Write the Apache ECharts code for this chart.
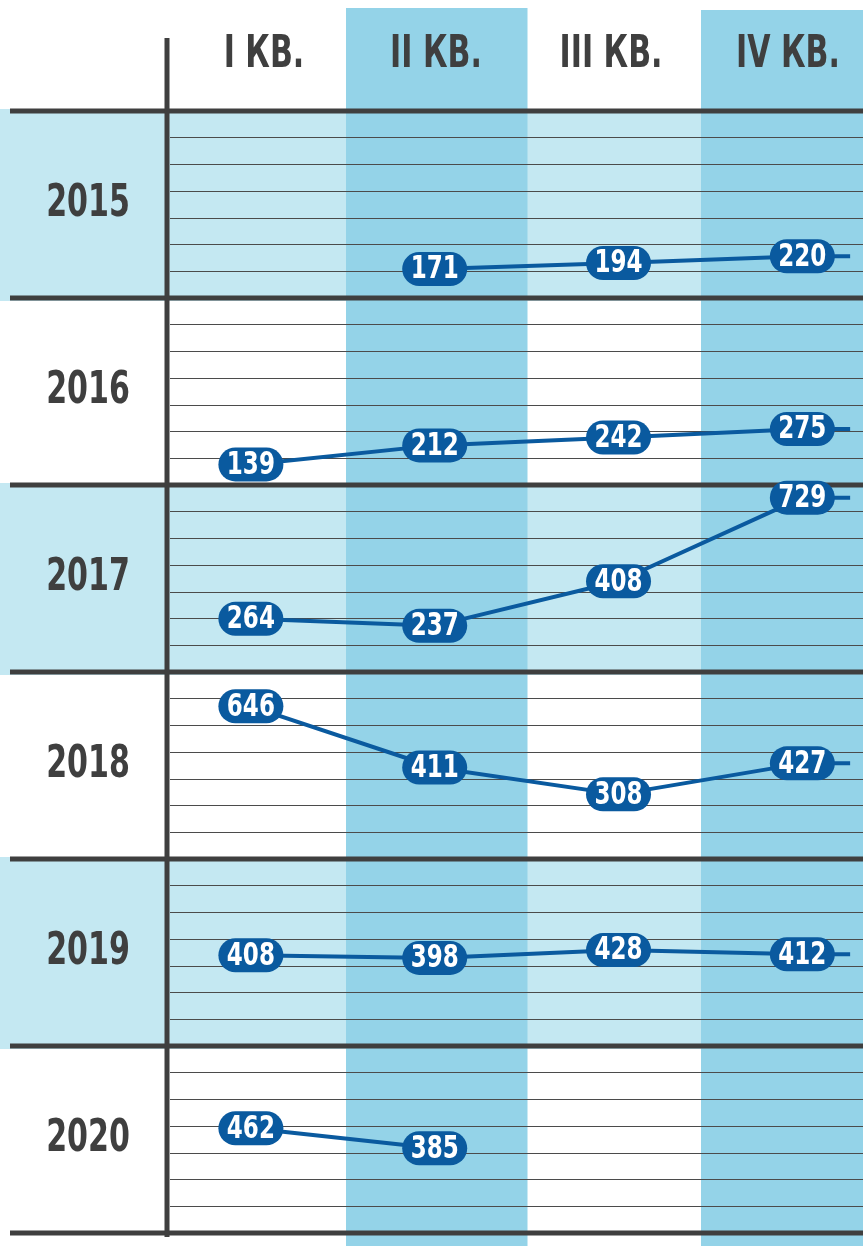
<!DOCTYPE html>
<html>
<head>
<meta charset="utf-8">
<script src="https://cdn.jsdelivr.net/npm/echarts@6/dist/echarts.min.js"></script>
<style>
  html, body { margin: 0; padding: 0; background: #fff; }
  #main { width: 863px; height: 1246px; }
</style>
</head>
<body>
<div id="main"></div>
<script>
    var myChart = echarts.init(document.getElementById('main'));

    // данные
    var years = ['2015', '2016', '2017', '2018', '2019', '2020'];
    var quarters = ['I КВ.', 'II КВ.', 'III КВ.', 'IV КВ.'];
    var v2015 = [null, 171, 194, 220];
    var v2016 = [139, 212, 242, 275];
    var v2017 = [264, 237, 408, 729];
    var v2018 = [646, 411, 308, 427];
    var v2019 = [408, 398, 428, 412];
    var v2020 = [462, 385, null, null];
    var values = [v2015, v2016, v2017, v2018, v2019, v2020];

    var font = "'Liberation Sans Narrow', 'DejaVu Sans Condensed', sans-serif";
    var dark = '#3f3f3f';
    var blue = '#0a5a9f';
    var lightBlue = '#c4e8f2';
    var bandBlue = '#94d3e8';

    var rowTop0 = 111, rowH = 187;
    var headX = [264, 436, 611, 788];
    var tailX = 4.26;
    var squeeze = 0.76;   // шрифт шире оригинального, поджимаем

    var grid = [], xAxis = [], yAxis = [], series = [], graphic = [];

    // фон: светлые строки
    years.forEach(function (y, i) {
        if (i % 2 == 0) {
            graphic.push({
                type: 'rect', z: 0,
                shape: {x: 0, y: rowTop0 + i * rowH - 2, width: 863, height: rowH + 5},
                style: {fill: lightBlue}
            });
        }
    });
    // колонки II и IV
    graphic.push({type: 'rect', z: 1, shape: {x: 346, y: 8, width: 181.5, height: 1240}, style: {fill: bandBlue}});
    graphic.push({type: 'rect', z: 1, shape: {x: 701, y: 10, width: 162, height: 1240}, style: {fill: bandBlue}});

    // толстые линии
    for (var k = 0; k <= years.length; k++) {
        graphic.push({
            type: 'line', z: 4,
            shape: {x1: 10, y1: rowTop0 + k * rowH, x2: 863, y2: rowTop0 + k * rowH},
            style: {stroke: dark, lineWidth: 5}
        });
    }
    graphic.push({
        type: 'line', z: 4,
        shape: {x1: 167, y1: 38, x2: 167, y2: 1237},
        style: {stroke: dark, lineWidth: 5}
    });

    // заголовки кварталов
    quarters.forEach(function (q, j) {
        graphic.push({
            type: 'text', z: 4, x: headX[j], y: 56, scaleX: squeeze,
            style: {
                text: q, x: 0, y: 0,
                textAlign: 'center', textVerticalAlign: 'middle',
                font: 'bold 44px ' + font, fill: dark
            }
        });
    });

    function renderPill(params, api) {
        var pt = api.coord([api.value(0), api.value(1)]);
        return {
            type: 'group', x: pt[0], y: pt[1],
            children: [{
                type: 'rect',
                shape: {x: -32.5, y: -17, width: 65, height: 34, r: 17},
                style: {fill: blue}
            }, {
                type: 'text', scaleX: 0.8,
                style: {
                    text: String(api.value(1)), x: 0, y: 1,
                    align: 'center', verticalAlign: 'middle',
                    font: 'bold 32px ' + font, fill: '#fff'
                }
            }]
        };
    }

    years.forEach(function (y, i) {
        var top = rowTop0 + i * rowH;
        graphic.push({
            type: 'text', z: 4, x: 88, y: top + rowH / 2, scaleX: squeeze,
            style: {
                text: y, x: 0, y: 0,
                textAlign: 'center', textVerticalAlign: 'middle',
                font: 'bold 44px ' + font, fill: dark
            }
        });

        grid.push({left: 170, right: 0, top: top, height: rowH});
        xAxis.push({
            type: 'value', gridIndex: i, min: 0.56, max: 4.33,
            axisLine: {show: false}, axisTick: {show: false},
            axisLabel: {show: false}, splitLine: {show: false}
        });
        yAxis.push({
            type: 'value', gridIndex: i, min: 60, max: 777.5, interval: 102.5, z: 2,
            axisLine: {show: false}, axisTick: {show: false}, axisLabel: {show: false},
            splitLine: {lineStyle: {color: '#4b4b4b', width: 1.2}}
        });

        var vals = values[i];
        var pts = [];
        vals.forEach(function (v, q) {
            if (v != null) pts.push([q + 1, v]);
        });
        var lineData = pts.slice();
        if (vals[3] != null) lineData.push([tailX, vals[3]]);

        series.push({
            type: 'line', xAxisIndex: i, yAxisIndex: i, z: 5,
            data: lineData,
            symbol: 'none',
            lineStyle: {color: blue, width: 4},
            silent: true,
            animation: false
        });
        series.push({
            type: 'custom', xAxisIndex: i, yAxisIndex: i, z: 6,
            data: pts,
            encode: {x: 0, y: 1},
            renderItem: renderPill,
            clip: false,
            silent: true,
            animation: false
        });
    });

    option = {
        backgroundColor: '#fff',
        animation: false,
        grid: grid,
        xAxis: xAxis,
        yAxis: yAxis,
        graphic: graphic,
        series: series
    };

    myChart.setOption(option);
</script>
</body>
</html>
